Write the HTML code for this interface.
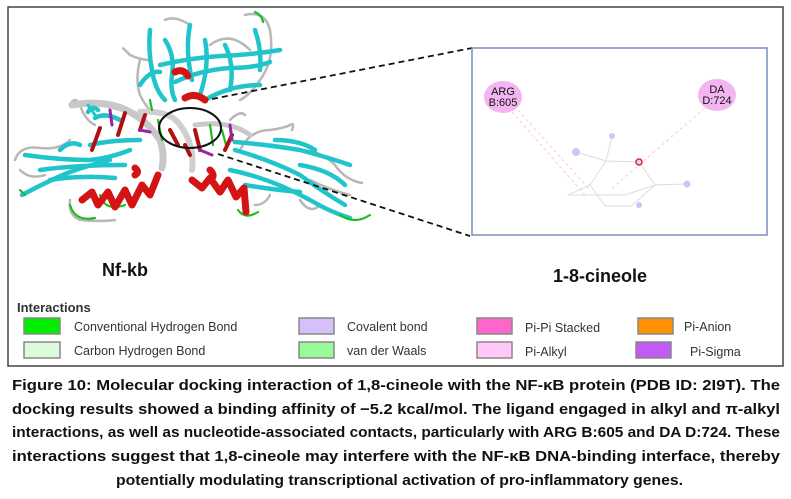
<!DOCTYPE html>
<html><head><meta charset="utf-8"><style>
html,body{margin:0;padding:0;background:#fff;}
svg{display:block;}
text{font-family:"Liberation Sans",sans-serif;}
</style></head><body>
<svg width="791" height="499" viewBox="0 0 791 499" xmlns="http://www.w3.org/2000/svg">
<rect x="8" y="7" width="775" height="359" fill="#fff" stroke="#444" stroke-width="1.5"/>

<!-- protein -->
<g stroke-linecap="round" stroke-linejoin="round" fill="none">
  <!-- grey coils -->
  <g stroke="#b8b8b8" stroke-width="2.5">
    <path d="M15 160 Q20 145 40 148 Q60 150 70 140"/>
    <path d="M20 170 Q30 180 45 175"/>
    <path d="M70 105 Q75 95 80 105 Q85 120 95 125"/>
    <path d="M125 50 Q120 45 130 55 Q140 60 150 60"/>
    <path d="M165 20 Q175 15 190 25"/>
    <path d="M245 15 Q265 10 270 30 Q275 60 260 80 Q250 95 240 100"/>
    <path d="M210 45 Q230 30 250 50"/>
    <path d="M140 60 Q135 80 140 95 Q145 105 150 110"/>
    <path d="M70 200 Q68 215 80 220 Q100 222 115 220"/>
    <path d="M240 150 Q250 130 270 130 Q285 128 290 125 Q295 122 292 130"/>
    <path d="M300 150 Q320 150 335 165 Q345 180 362 183"/>
    <path d="M310 180 Q330 190 350 195"/>
    <path d="M300 200 Q310 215 320 205"/>
    <path d="M255 205 Q265 205 270 195"/>
    <path d="M230 120 Q240 110 245 115"/>
  </g>
  <!-- DNA -->
  <path d="M72 105 Q130 95 160 140 Q165 155 162 168" stroke="#c8c8c8" stroke-width="7"/>
  <path d="M140 112 Q170 110 180 125 Q195 145 192 170" stroke="#cfcfcf" stroke-width="6"/>
  <path d="M195 125 Q230 120 250 135" stroke="#c8c8c8" stroke-width="5"/>
  <!-- cyan sheets -->
  <g stroke="#22c4cc" stroke-width="4.5">
    <path d="M22 195 Q50 180 70 172 Q90 165 110 160"/>
    <path d="M25 155 Q60 160 90 160 Q110 158 130 150"/>
    <path d="M40 170 Q75 165 125 165"/>
    <path d="M50 180 Q80 175 115 178"/>
    <path d="M60 150 Q70 140 80 145"/>
    <path d="M95 118 Q105 112 120 120"/>
    <path d="M90 145 Q110 140 140 140"/>
    <path d="M150 30 Q148 50 152 70 Q155 90 165 100"/>
    <path d="M165 40 Q175 55 172 75 Q170 90 175 100"/>
    <path d="M190 25 Q185 50 192 80"/>
    <path d="M205 40 Q210 65 200 95"/>
    <path d="M225 45 Q235 65 230 90"/>
    <path d="M255 30 Q262 50 260 70"/>
    <path d="M160 65 Q190 58 220 56 Q250 55 280 50"/>
    <path d="M175 82 Q200 70 230 68 Q255 68 270 62"/>
    <path d="M205 100 Q230 85 260 85"/>
    <path d="M140 85 Q150 70 160 72"/>
    <path d="M235 150 Q270 160 300 175 Q320 190 345 205"/>
    <path d="M235 142 Q270 145 300 150 Q330 158 350 165"/>
    <path d="M230 170 Q270 178 310 200 Q330 212 350 218"/>
    <path d="M245 185 Q275 190 300 192"/>
    <path d="M275 140 Q300 140 315 150"/>
    <path d="M300 165 Q330 170 345 185"/>
    <path d="M88 112 Q92 105 98 110"/>
  </g>
  <!-- green loops -->
  <g stroke="#22bb22" stroke-width="2.2">
    <path d="M70 205 Q75 222 95 218"/>
    <path d="M100 195 Q105 212 125 205"/>
    <path d="M340 215 Q355 225 370 215"/>
    <path d="M255 12 Q262 15 263 22"/>
    <path d="M238 210 Q245 220 258 212"/>
    <path d="M158 120 L162 140"/>
    <path d="M210 125 L213 145"/>
    <path d="M222 130 L226 145"/>
    <path d="M150 100 L152 110"/>
    <path d="M20 190 L25 195"/>
  </g>
  <!-- red helices -->
  <g stroke="#d41414" stroke-width="7">
    <path d="M82 200 L92 192 L98 205 L108 192 L115 207 L125 190 L132 205 L142 185 L150 195 L158 175"/>
    <path d="M192 180 L202 188 L210 178 L220 192 L228 180 L236 197 L244 188 L246 212"/>
    <path d="M175 72 Q183 68 188 76"/>
    <path d="M185 98 Q195 92 205 100"/>
    <path d="M135 168 Q140 172 135 175"/>
    <path d="M210 170 Q215 175 212 178"/>
  </g>
  <g stroke="#b01010" stroke-width="4">
    <path d="M100 128 L92 150"/><path d="M125 113 L118 135"/><path d="M145 115 L140 130"/>
    <path d="M170 130 L178 145"/><path d="M195 130 L200 150"/><path d="M232 135 L225 150"/>
    <path d="M185 145 L190 155"/>
  </g>
  <g stroke="#9922aa" stroke-width="3">
    <path d="M110 110 L112 125"/><path d="M230 125 L232 140"/><path d="M200 150 L212 155"/><path d="M140 130 L150 132"/>
  </g>
  <path d="M88 105 L95 115" stroke="#22c4cc" stroke-width="3"/>
</g>
<ellipse cx="190" cy="128" rx="31" ry="20" fill="none" stroke="#111" stroke-width="2"/>
<line x1="212" y1="99" x2="472" y2="48" stroke="#111" stroke-width="1.8" stroke-dasharray="6,4"/>
<line x1="218" y1="154" x2="470" y2="236" stroke="#111" stroke-width="1.8" stroke-dasharray="6,4"/>

<!-- inset -->
<rect x="472" y="48" width="295" height="187" fill="#fff" stroke="#7a8fbf" stroke-width="1.5"/>
<ellipse cx="503" cy="97" rx="19" ry="16" fill="#f3b6f0"/>
<ellipse cx="717" cy="95" rx="19" ry="16" fill="#f3b6f0"/>
<text x="503" y="95" font-size="11" text-anchor="middle" fill="#111">ARG</text>
<text x="503" y="106" font-size="11" text-anchor="middle" fill="#111">B:605</text>
<text x="717" y="93" font-size="11" text-anchor="middle" fill="#111">DA</text>
<text x="717" y="104" font-size="11" text-anchor="middle" fill="#111">D:724</text>
<g stroke="#f6c6ee" stroke-width="1" stroke-dasharray="3,3" fill="none">
  <line x1="518" y1="110" x2="590" y2="190"/>
  <line x1="512" y1="112" x2="585" y2="195"/>
  <line x1="705" y1="108" x2="610" y2="190"/>
</g>
<g stroke="#ddd" stroke-width="1" fill="none">
  <path d="M576 152 L606 161 L639 162 L655 185 L631 206 L605 206 L590 185 L606 161"/>
  <path d="M568 195 L590 185"/><path d="M568 195 L625 195 L655 185"/>
  <path d="M655 185 L687 184"/><path d="M606 161 L612 137"/>
</g>
<circle cx="576" cy="152" r="4" fill="#c8c8f8"/>
<circle cx="612" cy="136" r="3" fill="#c8c8f8"/>
<circle cx="687" cy="184" r="3.5" fill="#c8c8f8"/>
<circle cx="639" cy="205" r="3" fill="#c8c8f8"/>
<circle cx="639" cy="162" r="3" fill="#cfe0ff" stroke="#e22" stroke-width="1.5"/>

<text x="102" y="276" font-size="18" font-weight="bold" fill="#111">Nf-kb</text>
<text x="553" y="282" font-size="18" font-weight="bold" fill="#111">1-8-cineole</text>

<!-- legend -->
<text x="17" y="312" font-size="13" font-weight="bold" fill="#333">Interactions</text>
<g stroke="#888" stroke-width="1.5">
  <rect x="24" y="318" width="36" height="16" fill="#00ee00"/>
  <rect x="24" y="342" width="36" height="16" fill="#dcfadc"/>
  <rect x="299" y="318" width="35" height="16" fill="#d6c0fa"/>
  <rect x="299" y="342" width="35" height="16" fill="#99fa99"/>
  <rect x="477" y="318" width="35" height="16" fill="#ff66cc"/>
  <rect x="477" y="342" width="35" height="16" fill="#ffc8f8"/>
  <rect x="638" y="318" width="35" height="16" fill="#ff9100"/>
  <rect x="636" y="342" width="35" height="16" fill="#c25af5"/>
</g>
<g font-size="12.5" fill="#333">
  <text x="74" y="331">Conventional Hydrogen Bond</text>
  <text x="74" y="355">Carbon Hydrogen Bond</text>
  <text x="347" y="331">Covalent bond</text>
  <text x="347" y="355">van der Waals</text>
  <text x="525" y="332">Pi-Pi Stacked</text>
  <text x="525" y="356">Pi-Alkyl</text>
  <text x="684" y="331">Pi-Anion</text>
  <text x="690" y="356">Pi-Sigma</text>
</g>

<!-- caption -->
<g font-size="15" font-weight="bold" fill="#111">
  <text x="12" y="390" textLength="768" lengthAdjust="spacingAndGlyphs">Figure 10: Molecular docking interaction of 1,8-cineole with the NF-κB protein (PDB ID: 2I9T). The</text>
  <text x="12" y="414" textLength="768" lengthAdjust="spacingAndGlyphs">docking results showed a binding affinity of −5.2 kcal/mol. The ligand engaged in alkyl and π-alkyl</text>
  <text x="12" y="437" textLength="768" lengthAdjust="spacingAndGlyphs">interactions, as well as nucleotide-associated contacts, particularly with ARG B:605 and DA D:724. These</text>
  <text x="12" y="461" textLength="768" lengthAdjust="spacingAndGlyphs">interactions suggest that 1,8-cineole may interfere with the NF-κB DNA-binding interface, thereby</text>
  <text x="116" y="485" textLength="567" lengthAdjust="spacingAndGlyphs">potentially modulating transcriptional activation of pro-inflammatory genes.</text>
</g>
</svg>
</body></html>
